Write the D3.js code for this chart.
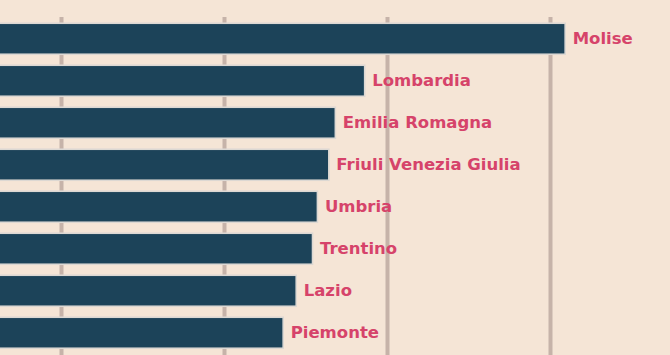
<!DOCTYPE html>
<html>
<head>
<meta charset="utf-8">
<script src="https://cdn.jsdelivr.net/npm/d3@7"></script>
<style>
  html, body { margin: 0; padding: 0; background: #f5e5d6; overflow: hidden; }
  svg { display: block; }
  .lbl { font-family: "DejaVu Sans", Verdana, sans-serif; font-weight: 700; font-size: 16.5px; }
</style>
</head>
<body>
<script>
const regions = ["Molise", "Lombardia", "Emilia Romagna", "Friuli Venezia Giulia", "Umbria", "Trentino", "Lazio", "Piemonte"];
const values = [4.09, 2.86, 2.68, 2.64, 2.57, 2.54, 2.44, 2.36];
const gridTicks = [1, 2, 3, 4];

const W = 670, H = 355;
const svg = d3.select("body").append("svg").attr("width", W).attr("height", H);
svg.append("rect").attr("width", W).attr("height", H).attr("fill", "#f5e5d6");

const x = d3.scaleLinear().domain([0, 1]).range([-101.5, 61.5]);
const y = d3.scaleBand().domain(regions).range([17.75, 17.75 + 42 * regions.length]).paddingInner(0.262).paddingOuter(0.131);

svg.append("g").selectAll("line").data(gridTicks).join("line")
  .attr("x1", d => x(d)).attr("x2", d => x(d))
  .attr("y1", 17).attr("y2", H)
  .attr("stroke", "#c6b3a9").attr("stroke-width", 4);

svg.append("g").selectAll("rect").data(regions).join("rect")
  .attr("x", x(0))
  .attr("y", d => y(d))
  .attr("width", (d, i) => x(values[i]) - x(0))
  .attr("height", y.bandwidth())
  .attr("fill", "#1c4359")
  .attr("stroke", "#dcd8d3").attr("stroke-width", 1.6);

svg.append("g").selectAll("text").data(regions).join("text")
  .attr("class", "lbl")
  .attr("x", (d, i) => x(values[i]) + 7.5)
  .attr("y", d => y(d) + y.bandwidth() / 2)
  .attr("dy", "0.33em")
  .attr("fill", "#d6436a")
  .text(d => d);
</script>
</body>
</html>
